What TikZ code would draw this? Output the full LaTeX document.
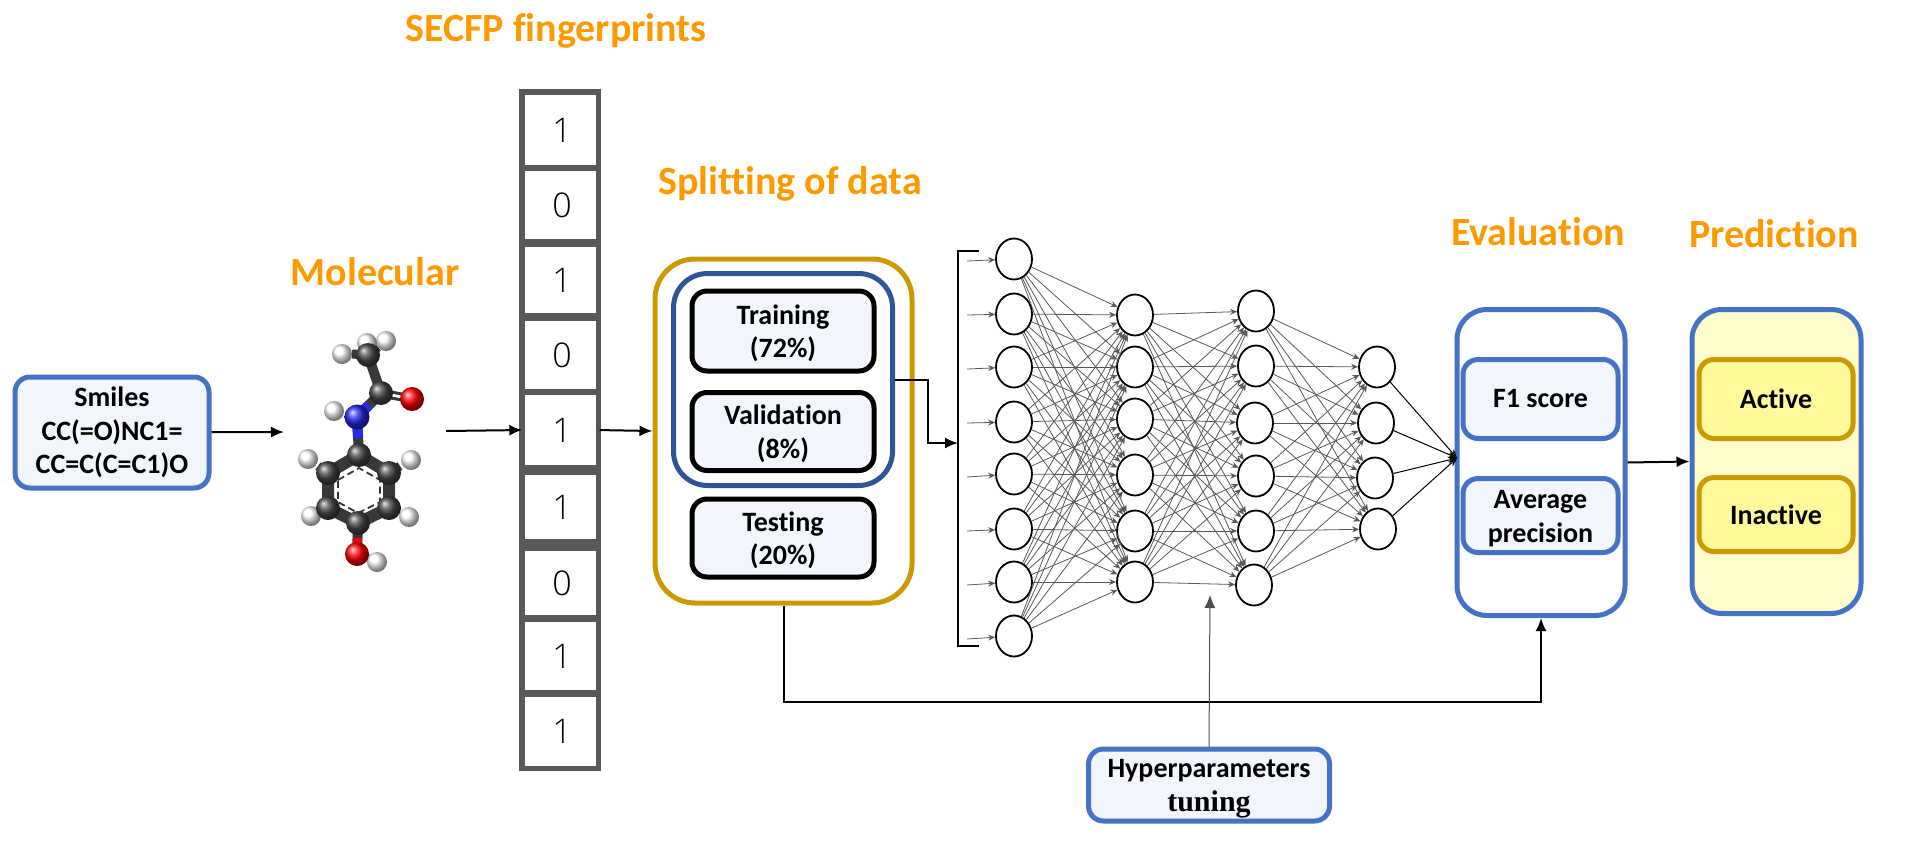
\documentclass[tikz,border=0pt]{standalone}
\usepackage{fontspec}
\setmainfont[Ligatures=NoCommon]{Carlito}
\newfontfamily\digitfont{Open Sans Light}
\newfontfamily\tunefont{Liberation Serif}
\usetikzlibrary{arrows.meta,calc,positioning,shapes.geometric}
\definecolor{boxblue}{HTML}{4472C4}
\definecolor{darkblue}{HTML}{2F5597}
\definecolor{boxgold}{HTML}{CC9900}
\definecolor{paleblue}{HTML}{F2F6FC}
\definecolor{titleorange}{HTML}{FF9900}
\definecolor{cellgray}{HTML}{595959}
\definecolor{atomblue}{HTML}{2828F0}
\definecolor{atomred}{HTML}{FF0000}
\newcommand{\lift}{\rule{0pt}{24pt}}
\tikzset{>={Latex[length=13pt,width=11pt]}}
\tikzset{
  title/.style={font=\fontsize{40}{44}\selectfont\bfseries,text=titleorange},
  panel/.style={draw,rounded corners=30pt,line width=5pt,inner sep=0pt},
  smallbox/.style={draw=boxblue,fill=paleblue,rounded corners=15pt,line width=5pt,inner sep=0pt,align=center,font=\fontsize{28}{33.5}\selectfont\bfseries},
  splitbox/.style={draw=black,fill=paleblue,rounded corners=15pt,line width=5pt,inner sep=0pt,align=center,font=\fontsize{28}{33.5}\selectfont\bfseries,minimum width=182pt},
  classbox/.style={smallbox,draw=boxgold,fill=yellow!40!white,minimum width=154pt},
  cell/.style={fill=white,inner sep=0pt,minimum width=71pt,font=\fontsize{34}{34}\selectfont\digitfont},
  neuron/.style={ellipse,draw=black,fill=white,line width=1.8pt,inner sep=0pt,minimum width=36pt,minimum height=41pt},
  netline/.style={draw=black!65,line width=.8pt,>={Stealth[length=7pt,width=6pt]}},
  outline/.style={line width=1pt,>={Stealth[length=9pt,width=7pt]}},
  link/.style={line width=2pt},
  bond/.style={line width=12pt,draw=black!78},
}
\begin{document}
\begin{tikzpicture}[x=1pt,y=-1pt]
\useasboundingbox (0,0) rectangle (1920,863);

% titles
\node[title] (secfptitle) at (556,31) {SECFP fingerprints};
\node[title] (moltitle) at (375,272) {Molecular};
\node[title] (splittitle) at (790,184) {Splitting of data};
\node[title] (evaltitle) at (1538,232) {Evaluation};
\node[title] (predtitle) at (1774,234) {Prediction};

% smiles input
\node[smallbox,minimum width=194pt,minimum height=111pt] (smiles) at (112,432.5) {Smiles\\CC(=O)NC1=\\CC=C(C=C1)O};

% molecule
\coordinate (molin) at (284,432);
\coordinate (molout) at (446,431);
\draw[bond] (328,473) -- (359,455) -- (389,473) -- (389,508) -- (358,523) -- (328,508) -- cycle;
\draw[bond,line width=9pt] (318,466) -- (328,473) (400,466) -- (389,473) (320,512) -- (328,508) (399,512) -- (389,508);
\draw[bond,line width=10pt] (358,523) -- (357,554);
\draw[bond,line width=10pt] (368,355) -- (381,393) -- (357,417) -- (359,455);
\draw[line width=10pt,draw=atomblue] (357,417) -- (358,438);
\draw[line width=10pt,draw=atomblue] (357,417) -- (369,405);
\draw[line width=8pt,draw=atomred] (357,554) -- (357.5,538);
\draw[line width=9pt,draw=black!78] (352,354) -- (368,355) -- (378,347) (367,343) -- (368,355);
\draw[line width=3pt,draw=black!78] (381,390) -- (412,396) (381,396) -- (412,402);
\draw[line width=8pt,draw=black!60] (345,414) -- (357,417);
\draw[line width=8pt,draw=black!40] (365,557) -- (377,562);
\draw[black!80,line width=1.8pt,dash pattern=on 7pt off 4pt] (338,480) -- (359,468) -- (380,480) -- (380,502) -- (358,513) -- (338,502) -- cycle;
\foreach \x/\y in {386/341,367/343,342/354,334/411,308/459,411/460,311/516,409/517,377/562}
  \shade[ball color=white] (\x,\y) circle (10pt);
\foreach \x/\y in {368/355,381/393,359/455,328/473,389/473,328/508,389/508,358/523}
  \shade[ball color=black!72] (\x,\y) circle (12pt);
\foreach \x/\y in {412/399,357/554}
  \shade[ball color=atomred] (\x,\y) circle (12pt);
\shade[ball color=atomblue] (357,417) circle (12.5pt);

% fingerprint column
\fill[cellgray] (519,89) rectangle (601,771);
\foreach \v/\yc/\h [count=\i] in {1/130/70,0/205/68,1/280/66,0/355/68,1/430/70,1/507/64,0/583/64,1/656/68,1/731.5/69}
  \node[cell,minimum height=\h pt] (cell\i) at (560,\yc) {\hspace*{4pt}\v};

% data split
\node[panel,draw=boxgold,rounded corners=40pt,minimum width=257pt,minimum height=344pt] (splitpanel) at (783.5,431) {};
\node[panel,draw=darkblue,rounded corners=34pt,minimum width=219pt,minimum height=212pt] (trainpanel) at (783,379.5) {};
\node[splitbox,minimum height=80pt] (training) at (783,331) {\lift Training\\(72\%)};
\node[splitbox,minimum height=78pt] (validation) at (783,431.5) {\lift Validation\\(8\%)};
\node[splitbox,minimum height=78pt] (testing) at (783,538) {\lift Testing\\(20\%)};

% network
\foreach \y [count=\i] in {259,314,367,422,474,529,582,636}
  \node[neuron] (a\i) at (1014,\y) {};
\foreach \y [count=\i] in {315,367,419,475,531,582}
  \node[neuron] (b\i) at (1135,\y) {};
\foreach \x/\y [count=\i] in {1256/311,1256/366,1255/423,1256/476,1256/531,1254/585}
  \node[neuron] (c\i) at (\x,\y) {};
\foreach \x/\y [count=\i] in {1377/367,1376/423,1375/478,1378/529}
  \node[neuron] (d\i) at (\x,\y) {};
\foreach \y [count=\i] in {261,315,369,423,477,531,585,639} {
  \coordinate (inp\i) at (967,\y);
  \draw[netline,->] (inp\i) -- (a\i);
}
\foreach \i in {1,...,8}
  \foreach \j in {1,...,6}
    \draw[netline,->] (a\i) -- (b\j);
\foreach \i in {1,...,6}
  \foreach \j in {1,...,6}
    \draw[netline,->] (b\i) -- (c\j);
\foreach \i in {1,...,6}
  \foreach \j in {1,...,4}
    \draw[netline,->] (c\i) -- (d\j);

% input bracket
\coordinate (brtop) at (979,251);
\coordinate (brbot) at (979,646);
\coordinate (brmid) at (958,443);
\draw[line width=1.8pt] (brtop) -- (958,251) -- (958,646) -- (brbot);

% evaluation and prediction
\node[panel,draw=boxblue,minimum width=168pt,minimum height=306pt] (evalpanel) at (1541,462.5) {};
\node[smallbox,minimum width=155pt,minimum height=79pt] (f1score) at (1540.5,399) {F1 score};
\node[smallbox,minimum width=155pt,minimum height=74pt] (avgprec) at (1540.5,515.5) {\lift Average\\precision};
\node[panel,draw=boxblue,fill=yellow!20!white,minimum width=169pt,minimum height=304pt] (predpanel) at (1776.5,461.5) {};
\node[classbox,minimum height=79pt] (active) at (1776,399) {Active};
\node[classbox,minimum height=74pt] (inactive) at (1776,514.5) {Inactive};

% hyperparameters
\node[smallbox,minimum width=241pt,minimum height=72pt] (hyper) at (1209,785) {\rule{0pt}{26pt}Hyperparameters\\{\fontsize{30}{33.5}\selectfont\tunefont tuning}};
\coordinate (hypertip) at (1210,595);

% connectors
\draw[link,->] (smiles) -- (molin);
\draw[link,->,shorten >=2pt] (molout) -- (cell5.west);
\draw[link,->,shorten <=4pt] (cell5.east) -- (splitpanel.west);
\draw[link,->] (trainpanel.east) -- ++(33,0) |- (brmid);
\draw[link,->] (splitpanel.south) -- ++(0,96.5) -| (evalpanel.south);
\draw[line width=1pt,draw=black!70,->] (hyper.north) -- (hypertip);
\draw[link,->] (evalpanel.east) -- (predpanel.west);
\coordinate (evalin) at (1457,458);
\foreach \i in {1,...,4}
  \draw[outline,->] (d\i) -- (evalin);
\end{tikzpicture}
\end{document}
